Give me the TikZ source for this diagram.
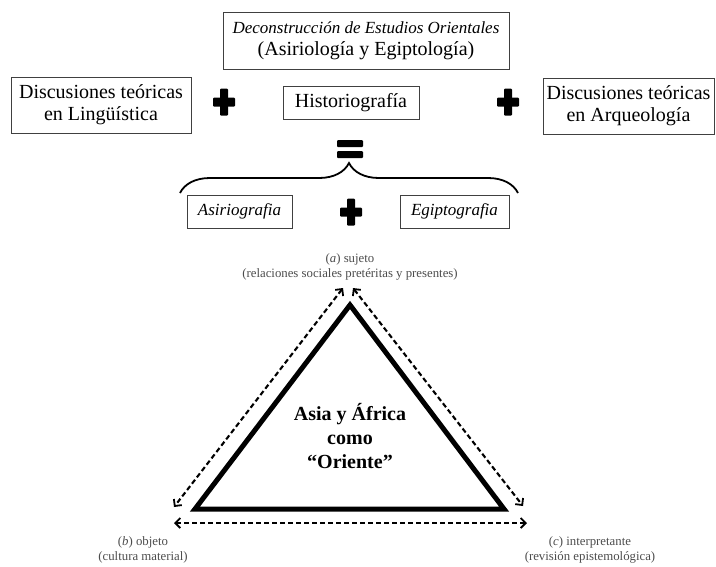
\documentclass[tikz,border=0pt]{standalone}
\usepackage{fontspec}
\setmainfont{Liberation Serif}
\usetikzlibrary{arrows.meta,positioning,decorations.pathreplacing}

\begin{document}
\begin{tikzpicture}[
  x = 1pt, y = -1pt,
  > = {Straight Barb[length=5pt,width=10pt,line width=1.8pt]},
  box/.style = {rectangle, draw=black!75, line width=1pt, align=center,
                inner sep=2pt, font=\fontsize{20}{22}\selectfont},
  lbl/.style = {align=center, text=black!70, font=\fontsize{12.8}{15}\selectfont},
  dasharrow/.style = {<->, dash pattern=on 5pt off 3pt, line width=2.1pt},
  plussign/.pic = {
    \fill[rounded corners=1pt] (-11,-4.5) rectangle (11,4.5);
    \fill[rounded corners=1pt] (-4,-13.5) rectangle (4,13.5);
  },
  equalsign/.pic = {
    \fill[rounded corners=1pt] (-13,-9) rectangle (13,-2);
    \fill[rounded corners=1pt] (-13,2) rectangle (13,9);
  }
]
\useasboundingbox (0,0) rectangle (716,566);

% upper part
\node[box, minimum width=286pt, minimum height=57pt] (deco) at (366,40.5)
  {{\fontsize{17}{22}\selectfont\itshape Deconstrucción de Estudios Orientales}\\(Asiriología y Egiptología)};
\node[box, minimum width=180pt, minimum height=56pt] (lingu) at (101,105)
  {Discusiones teóricas\\en Lingüística};
\node[box, minimum width=136pt, minimum height=33pt] (histo) at (351,102.5) {Historiografía};
\node[box, minimum width=171pt, minimum height=56pt] (arqueo) at (628.5,106)
  {Discusiones teóricas\\en Arqueología};

\pic (plusL) at (224,102) {plussign};
\pic (plusR) at (508,102) {plussign};
\pic (equal) at (350,149) {equalsign};

\coordinate (braceL) at (180,193);
\coordinate (braceR) at (518,193);
\draw[line width=1.8pt, decorate, decoration={brace, amplitude=30pt}] (braceL) -- (braceR);

\node[box, minimum width=105pt, minimum height=33pt,
      font=\fontsize{17}{20}\selectfont\itshape] (asirio) at (239.5,211.5) {Asiriografia};
\pic (plusB) at (351,212) {plussign};
\node[box, minimum width=109pt, minimum height=33pt,
      font=\fontsize{17}{20}\selectfont\itshape] (egipto) at (454.5,211.5) {Egiptografia};

% triangle
\coordinate (apex) at (350,305);
\coordinate (bl) at (195,509);
\coordinate (br) at (504,509);
\draw[line width=5pt] (apex) -- (bl) -- (br) -- cycle;

\node[align=center, font=\fontsize{20}{24}\selectfont\bfseries] (orient) at (350,436)
  {Asia y África\\como\\“Oriente”};

\coordinate (aL) at (343,288);
\coordinate (aR) at (353,288);
\coordinate (bT) at (174,507);
\coordinate (cT) at (523,506);
\coordinate (bB) at (174,523);
\coordinate (cB) at (527,523);
\draw[dasharrow] (aL) -- (bT);
\draw[dasharrow] (aR) -- (cT);
\draw[dasharrow] (bB) -- (cB);

\node[lbl] (suj) at (350,267) {(\textit{a}) sujeto\\(relaciones sociales pretéritas y presentes)};
\node[lbl] (obj) at (143,550) {(\textit{b}) objeto\\(cultura material)};
\node[lbl] (interp) at (590,550) {(\textit{c}) interpretante\\(revisión epistemológica)};
\end{tikzpicture}
\end{document}
